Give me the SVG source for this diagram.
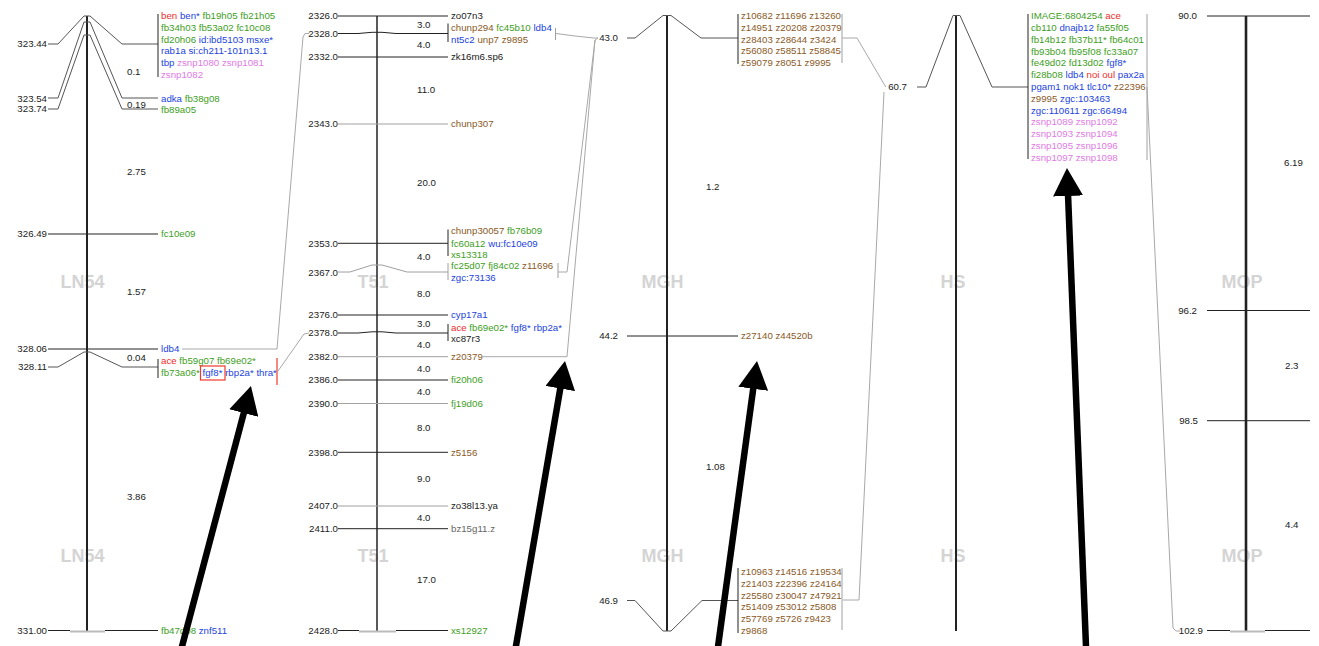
<svg xmlns="http://www.w3.org/2000/svg" width="1319" height="646" viewBox="0 0 1319 646">
  <style>
    text { font-family: "Liberation Sans", Arial, sans-serif; font-size: 9.7px; fill: #222; }
    .pos { text-anchor: end; }
    .wm { font-size: 18px; font-weight: bold; fill: #d4d4d4; text-anchor: middle; }
    .r { fill: #ee2b2b; }
    .b { fill: #2343e0; }
    .g { fill: #3e9e1c; }
    .n { fill: #8a5a1f; }
    .p { fill: #e07ae4; }
    .k { fill: #222; }
    .m { fill: #666; }
    .ln, .lg, .ld, .cn, .ax, .cap, .red { fill: none; }
    .ln { stroke: #222; stroke-width: 1; }
    .ld { stroke: #555; stroke-width: 1; }
    .lg { stroke: #a0a0a0; stroke-width: 1; }
    .cn { stroke: #a8a8a8; stroke-width: 1; }
    .ax { stroke: #222; stroke-width: 2; }
    .cap { stroke: #bbb; stroke-width: 2; }
    .red { stroke: #ee3b2b; stroke-width: 1.2; }
    .arrow { stroke: #000; stroke-width: 6.5; fill: none; marker-end: url(#head); }
  </style>
  <defs>
    <marker id="head" viewBox="0 0 28 30" refX="2" refY="15" markerWidth="28" markerHeight="30" markerUnits="userSpaceOnUse" orient="auto">
      <path d="M0,0 L28,15 L0,30 z" fill="#000"/>
    </marker>
  </defs>
  <rect width="1319" height="646" fill="#fff"/>

  <!-- LN54 map -->
  <g id="map-ln54">
    <text class="wm" x="82.5" y="288">LN54</text>
    <text class="wm" x="82.5" y="562">LN54</text>
    <line class="ax" x1="87" y1="16" x2="87" y2="631"/>
    <polyline class="ld" points="48,44 58,44 84,16 90,16 122,44 158,44"/>
    <polyline class="ld" points="48,98 58,98 84,22 90,22 122,98 158,98"/>
    <polyline class="ld" points="48,109 58,109 84,35 90,35 122,109 158,109"/>
    <line class="ln" x1="48" y1="234" x2="158" y2="234"/>
    <line class="ln" x1="48" y1="349" x2="158" y2="349"/>
    <polyline class="ld" points="48,367 58,367 84,352 90,352 122,367 158,367"/>
    <line class="ln" x1="48" y1="630.5" x2="70" y2="630.5"/>
    <line class="cap" x1="70" y1="631.5" x2="105" y2="631.5"/>
    <line class="ln" x1="105" y1="630.5" x2="158" y2="630.5"/>
    <line class="ln" x1="158" y1="14" x2="158" y2="77"/>
    <line class="ln" x1="158" y1="359" x2="158" y2="378"/>

    <text class="pos" x="47" y="47.4">323.44</text>
    <text class="pos" x="47" y="101.7">323.54</text>
    <text class="pos" x="47" y="112.4">323.74</text>
    <text class="pos" x="47" y="237.4">326.49</text>
    <text class="pos" x="47" y="352.4">328.06</text>
    <text class="pos" x="47" y="370.4">328.11</text>
    <text class="pos" x="47" y="634">331.00</text>

    <text x="127" y="75.1">0.1</text>
    <text x="127" y="107.7">0.19</text>
    <text x="127" y="175.4">2.75</text>
    <text x="127" y="295.1">1.57</text>
    <text x="127" y="361.1">0.04</text>
    <text x="127" y="500.4">3.86</text>

    <g id="ln54-323-44">
      <text x="161" y="19.2"><tspan class="r">ben</tspan> <tspan class="b">ben*</tspan> <tspan class="g">fb19h05 fb21h05</tspan></text>
      <text x="161" y="30.9" class="g">fb34h03 fb53a02 fc10c08</text>
      <text x="161" y="42.6"><tspan class="g">fd20h06</tspan> <tspan class="b">id:ibd5103 msxe*</tspan></text>
      <text x="161" y="54.3" class="b">rab1a si:ch211-101n13.1</text>
      <text x="161" y="66" ><tspan class="b">tbp</tspan> <tspan class="p">zsnp1080 zsnp1081</tspan></text>
      <text x="161" y="77.8" class="p">zsnp1082</text>
    </g>
    <text x="161" y="101.7"><tspan class="b">adka</tspan> <tspan class="g">fb38g08</tspan></text>
    <text x="161" y="112.8" class="g">fb89a05</text>
    <text x="161" y="237.4" class="g">fc10e09</text>
    <text x="161" y="352.4" class="b">ldb4</text>
    <g id="ln54-328-11">
      <text x="161" y="364.1"><tspan class="r">ace</tspan> <tspan class="g">fb59g07 fb69e02*</tspan></text>
      <text x="161" y="376.1"><tspan class="g">fb73a06*</tspan> <tspan class="b">fgf8*</tspan> <tspan class="b">rbp2a* thra*</tspan></text>
      <rect x="200.5" y="366" width="24.5" height="14" fill="none" stroke="#ee3b2b" stroke-width="1.2"/>
      <line class="red" x1="277" y1="358" x2="277" y2="385"/>
    </g>
    <text x="161" y="634"><tspan class="g">fb47d08</tspan> <tspan class="b">znf511</tspan></text>
  </g>

  <!-- T51 map -->
  <g id="map-t51">
    <text class="wm" x="373" y="288">T51</text>
    <text class="wm" x="373" y="562">T51</text>
    <line class="ax" x1="377" y1="16" x2="377" y2="631" style="stroke-width:1.5"/>
    <line class="ln" x1="338" y1="16" x2="448" y2="16"/>
    <polyline class="ln" points="338,33.5 358,33.5 372,32.3 382,32.3 396,33.5 448,33.5"/>
    <line class="ln" x1="338" y1="57" x2="448" y2="57"/>
    <line class="lg" x1="338" y1="124" x2="448" y2="124"/>
    <line class="ln" x1="338" y1="243.3" x2="448" y2="243.3"/>
    <polyline class="lg" points="338,272 350,272 372,265 382,265 407,272 448,272"/>
    <line class="ln" x1="338" y1="315" x2="448" y2="315"/>
    <polyline class="ln" points="338,333 358,333 372,331.8 382,331.8 396,333 448,333"/>
    <line class="lg" x1="338" y1="356.7" x2="448" y2="356.7"/>
    <line class="ln" x1="338" y1="380" x2="448" y2="380"/>
    <line class="lg" x1="338" y1="403.5" x2="448" y2="403.5"/>
    <line class="ln" x1="338" y1="452.3" x2="448" y2="452.3"/>
    <line class="lg" x1="338" y1="506" x2="448" y2="506"/>
    <line class="ln" x1="338" y1="528.7" x2="448" y2="528.7"/>
    <line class="ln" x1="338" y1="630.5" x2="359" y2="630.5"/>
    <line class="cap" x1="359" y1="631.5" x2="396" y2="631.5"/>
    <line class="ln" x1="396" y1="630.5" x2="448" y2="630.5"/>
    <line class="ln" x1="448" y1="23.5" x2="448" y2="42"/>
    <line class="ln" x1="448" y1="229.5" x2="448" y2="256"/>
    <line class="lg" x1="448" y1="263" x2="448" y2="280"/>
    <line class="ln" x1="448" y1="324" x2="448" y2="341"/>

    <text class="pos" x="338" y="19.1">2326.0</text>
    <text class="pos" x="338" y="36.9">2328.0</text>
    <text class="pos" x="338" y="60.4">2332.0</text>
    <text class="pos" x="338" y="127.4">2343.0</text>
    <text class="pos" x="338" y="246.7">2353.0</text>
    <text class="pos" x="338" y="275.7">2367.0</text>
    <text class="pos" x="338" y="318.4">2376.0</text>
    <text class="pos" x="338" y="336.4">2378.0</text>
    <text class="pos" x="338" y="360.1">2382.0</text>
    <text class="pos" x="338" y="383.4">2386.0</text>
    <text class="pos" x="338" y="406.9">2390.0</text>
    <text class="pos" x="338" y="455.7">2398.0</text>
    <text class="pos" x="338" y="509.4">2407.0</text>
    <text class="pos" x="338" y="532.1">2411.0</text>
    <text class="pos" x="338" y="634">2428.0</text>

    <text x="417" y="28.4">3.0</text>
    <text x="417" y="48.4">4.0</text>
    <text x="417" y="93.4">11.0</text>
    <text x="417" y="186.4">20.0</text>
    <text x="417" y="260.1">4.0</text>
    <text x="417" y="297.4">8.0</text>
    <text x="417" y="326.7">3.0</text>
    <text x="417" y="347.7">4.0</text>
    <text x="417" y="372.4">4.0</text>
    <text x="417" y="395.1">4.0</text>
    <text x="417" y="430.7">8.0</text>
    <text x="417" y="481.7">9.0</text>
    <text x="417" y="521.1">4.0</text>
    <text x="417" y="582.7">17.0</text>

    <text x="451" y="19.1" class="k">zo07n3</text>
    <g id="t51-2328">
      <text x="451" y="30.7"><tspan class="n">chunp294</tspan> <tspan class="g">fc45b10</tspan> <tspan class="b">ldb4</tspan></text>
      <text x="451" y="43.2"><tspan class="b">nt5c2</tspan> <tspan class="n">unp7 z9895</tspan></text>
      <line class="lg" x1="555.5" y1="28" x2="555.5" y2="40"/>
    </g>
    <text x="451" y="60.4" class="k">zk16m6.sp6</text>
    <text x="451" y="127.4" class="n">chunp307</text>
    <g id="t51-2353">
      <text x="451" y="234.1"><tspan class="n">chunp30057</tspan> <tspan class="g">fb76b09</tspan></text>
      <text x="451" y="246.7"><tspan class="g">fc60a12</tspan> <tspan class="b">wu:fc10e09</tspan></text>
      <text x="451" y="257.7" class="g">xs13318</text>
    </g>
    <g id="t51-2367">
      <text x="451" y="269.1"><tspan class="g">fc25d07 fj84c02</tspan> <tspan class="n">z11696</tspan></text>
      <text x="451" y="281.1" class="b">zgc:73136</text>
      <line class="lg" x1="558" y1="263" x2="558" y2="278"/>
    </g>
    <text x="451" y="318.4" class="b">cyp17a1</text>
    <g id="t51-2378">
      <text x="451" y="330.7"><tspan class="r">ace</tspan> <tspan class="g">fb69e02*</tspan> <tspan class="b">fgf8* rbp2a*</tspan></text>
      <text x="451" y="341.9" class="k">xc87r3</text>
    </g>
    <text x="451" y="360.1" class="n">z20379</text>
    <text x="451" y="383.4" class="g">fi20h06</text>
    <text x="451" y="406.9" class="g">fj19d06</text>
    <text x="451" y="455.7" class="n">z5156</text>
    <text x="451" y="509.4" class="k">zo38l13.ya</text>
    <text x="451" y="532.1" class="m">bz15g11.z</text>
    <text x="451" y="634" class="g">xs12927</text>
  </g>

  <!-- MGH map -->
  <g id="map-mgh">
    <text class="wm" x="662.5" y="288">MGH</text>
    <text class="wm" x="662.5" y="562">MGH</text>
    <line class="ax" x1="667" y1="16" x2="667" y2="631"/>
    <polyline class="ld" points="627,38 635,38 663,15.5 671,15.5 701,38 738,38"/>
    <line class="ln" x1="627" y1="336" x2="738" y2="336"/>
    <polyline class="ld" points="627,600.5 635,600.5 663,631 671,631 702,600.5 738,600.5"/>
    <line class="ln" x1="738" y1="14" x2="738" y2="64"/>
    <line class="ln" x1="738" y1="568" x2="738" y2="633"/>
    <line class="lg" x1="842" y1="14" x2="842" y2="63"/>
    <line class="lg" x1="842" y1="568" x2="842" y2="630"/>

    <text class="pos" x="618" y="41.4">43.0</text>
    <text class="pos" x="618" y="339.4">44.2</text>
    <text class="pos" x="618" y="604">46.9</text>
    <text x="706" y="190.4">1.2</text>
    <text x="706" y="470.4">1.08</text>

    <g id="mgh-43" class="n">
      <text x="741" y="19.1" class="n">z10682 z11696 z13260</text>
      <text x="741" y="30.8" class="n">z14951 z20208 z20379</text>
      <text x="741" y="42.5" class="n">z28403 z28644 z3424</text>
      <text x="741" y="54.2" class="n">z56080 z58511 z58845</text>
      <text x="741" y="65.9" class="n">z59079 z8051 z9995</text>
    </g>
    <text x="741" y="339.4" class="n">z27140 z44520b</text>
    <g id="mgh-46-9">
      <text x="741" y="575.1" class="n">z10963 z14516 z19534</text>
      <text x="741" y="586.8" class="n">z21403 z22396 z24164</text>
      <text x="741" y="598.5" class="n">z25580 z30047 z47921</text>
      <text x="741" y="610.2" class="n">z51409 z53012 z5808</text>
      <text x="741" y="621.9" class="n">z57769 z5726 z9423</text>
      <text x="741" y="633.6" class="n">z9868</text>
    </g>
  </g>

  <!-- HS map -->
  <g id="map-hs">
    <text class="wm" x="953" y="288">HS</text>
    <text class="wm" x="953" y="562">HS</text>
    <line class="ax" x1="956" y1="16" x2="956" y2="631"/>
    <polyline class="ld" points="917,87 926,87 953,15.5 960,15.5 992,87 1028,87"/>
    <line class="ln" x1="1028" y1="14" x2="1028" y2="159"/>
    <line class="lg" x1="1147" y1="14" x2="1147" y2="160"/>
    <text class="pos" x="907" y="90.4">60.7</text>
    <g id="hs-60-7">
      <text x="1031" y="19.1"><tspan class="g">IMAGE:6804254</tspan> <tspan class="r">ace</tspan></text>
      <text x="1031" y="30.9"><tspan class="g">cb110</tspan> <tspan class="b">dnajb12</tspan> <tspan class="g">fa55f05</tspan></text>
      <text x="1031" y="42.7" class="g">fb14b12 fb37b11* fb64c01</text>
      <text x="1031" y="54.5" class="g">fb93b04 fb95f08 fc33a07</text>
      <text x="1031" y="66.3"><tspan class="g">fe49d02 fd13d02</tspan> <tspan class="b">fgf8*</tspan></text>
      <text x="1031" y="78.1"><tspan class="g">fi28b08</tspan> <tspan class="b">ldb4</tspan> <tspan class="r">noi oul</tspan> <tspan class="b">pax2a</tspan></text>
      <text x="1031" y="89.9"><tspan class="b">pgam1 nok1 tlc10*</tspan> <tspan class="n">z22396</tspan></text>
      <text x="1031" y="101.7"><tspan class="n">z9995</tspan> <tspan class="b">zgc:103463</tspan></text>
      <text x="1031" y="113.5" class="b">zgc:110611 zgc:66494</text>
      <text x="1031" y="125.3" class="p">zsnp1089 zsnp1092</text>
      <text x="1031" y="137.1" class="p">zsnp1093 zsnp1094</text>
      <text x="1031" y="148.9" class="p">zsnp1095 zsnp1096</text>
      <text x="1031" y="160.7" class="p">zsnp1097 zsnp1098</text>
    </g>
  </g>

  <!-- MOP map -->
  <g id="map-mop">
    <text class="wm" x="1242" y="288">MOP</text>
    <text class="wm" x="1242" y="562">MOP</text>
    <line class="ax" x1="1246" y1="16" x2="1246" y2="631" style="stroke-width:2.6"/>
    <line class="ln" x1="1207" y1="16" x2="1310" y2="16"/>
    <line class="ln" x1="1207" y1="310.5" x2="1310" y2="310.5"/>
    <line class="ln" x1="1207" y1="420.7" x2="1310" y2="420.7"/>
    <line class="ln" x1="1207" y1="630.5" x2="1230" y2="630.5"/>
    <line class="cap" x1="1230" y1="631.5" x2="1265" y2="631.5"/>
    <line class="ln" x1="1265" y1="630.5" x2="1310" y2="630.5"/>
    <text class="pos" x="1197" y="19.4">90.0</text>
    <text class="pos" x="1197" y="313.9">96.2</text>
    <text class="pos" x="1198" y="424.1">98.5</text>
    <text class="pos" x="1203" y="634">102.9</text>
    <text x="1284" y="166.4">6.19</text>
    <text x="1285" y="369.4">2.3</text>
    <text x="1285" y="528.4">4.4</text>
  </g>

  <!-- links between shared markers -->
  <g id="connectors">
    <polyline class="cn" points="182,349 277,349 303,37 305,33.5 309,33.5"/>
    <polyline class="cn" points="278,371 304,334 309,333"/>
    <polyline class="cn" points="556,33.5 575,36 594,38 598,38"/>
    <polyline class="cn" points="558,272 567,272 595,40 598,38"/>
    <polyline class="cn" points="483,356.7 567,356.7 595,40"/>
    <polyline class="cn" points="842,38 857,38 884,84 886,87"/>
    <polyline class="cn" points="884,92 859,600 843,600"/>
    <polyline class="cn" points="1147,87 1173,628 1176,631 1180,631"/>
  </g>

  <!-- call-out arrows -->
  <g id="arrows">
    <line class="arrow" x1="180" y1="654" x2="244.3" y2="411.1"/>
    <line class="arrow" x1="514.6" y1="654" x2="560.6" y2="386.6"/>
    <line class="arrow" x1="717" y1="654" x2="753.5" y2="386.8"/>
    <line class="arrow" x1="1086.3" y1="654" x2="1068" y2="194"/>
  </g>
</svg>
